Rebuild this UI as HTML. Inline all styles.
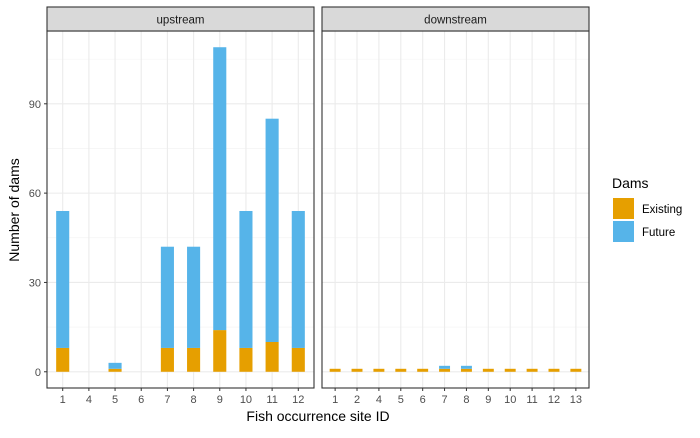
<!DOCTYPE html><html><head><meta charset="utf-8"><style>body{margin:0;background:#fff}text{font-family:"Liberation Sans",sans-serif}</style></head><body>
<svg id="c" width="700" height="433" xmlns="http://www.w3.org/2000/svg"></svg>
<script>
const upCats=["1","4","5","6","7","8","9","10","11","12"];
const upExisting=[8,0,1,0,8,8,14,8,10,8];
const upFuture=[46,0,2,0,34,34,95,46,75,46];
const downCats=["1","2","4","5","6","7","8","9","10","11","12","13"];
const downExisting=[1,1,1,1,1,1,1,1,1,1,1,1];
const downFuture=[0,0,0,0,0,1,1,0,0,0,0,0];
const yTicks=[0,30,60,90];
const svg=document.getElementById('c');const NS="http://www.w3.org/2000/svg";
function el(t,a,p){const e=document.createElementNS(NS,t);for(const k in a)e.setAttribute(k,a[k]);(p||svg).appendChild(e);return e;}
const yTop=31,yBot=388,ymin=-5.45,ymax=114.45;
const y=v=>yBot-(v-ymin)/(ymax-ymin)*(yBot-yTop);
function panel(x0,x1,cats,ex,fu,label,name,showY){
 const g=el('g',{});
 
 
 const n=cats.length,step=(x1-x0)/(n-1+1.2),x=i=>x0+(0.6+i)*step;
 [15,45,75,105].forEach(v=>el('line',{x1:x0,x2:x1,y1:y(v),y2:y(v),stroke:'#f2f2f2','stroke-width':0.6},g));
 yTicks.forEach(v=>el('line',{x1:x0,x2:x1,y1:y(v),y2:y(v),stroke:'#ebebeb','stroke-width':1.1},g));
 cats.forEach((c,i)=>el('line',{x1:x(i),x2:x(i),y1:yTop,y2:yBot,stroke:'#ebebeb','stroke-width':1.1},g));
 const bw=step*0.5;
 cats.forEach((c,i)=>{
  const b1=el('rect',{x:x(i)-bw/2,y:y(ex[i]),width:bw,height:y(0)-y(ex[i]),fill:'#E69F00'},g);
  
  
  const b2=el('rect',{x:x(i)-bw/2,y:y(ex[i]+fu[i]),width:bw,height:y(ex[i])-y(ex[i]+fu[i]),fill:'#56B4E9'},g);
  
  
  el('line',{x1:x(i),x2:x(i),y1:yBot,y2:yBot+3,stroke:'#333'},g);
  const t=el('text',{x:x(i),y:yBot+15,'text-anchor':'middle','font-size':11,fill:'#4d4d4d'},g);t.textContent=c;
 });
 el('rect',{x:x0,y:yTop,width:x1-x0,height:yBot-yTop,fill:'none',stroke:'#333','stroke-width':1.1},g);
 const s=el('rect',{x:x0,y:7,width:x1-x0,height:yTop-7,fill:'#d9d9d9',stroke:'#333','stroke-width':1.1},g);
 
 
 const st=el('text',{x:(x0+x1)/2,y:23.5,'text-anchor':'middle','font-size':11.5,fill:'#1a1a1a'},g);st.textContent=label;
 if(showY)yTicks.forEach(v=>{el('line',{x1:x0-3,x2:x0,y1:y(v),y2:y(v),stroke:'#333'},g);
  const t=el('text',{x:x0-6,y:y(v)+4,'text-anchor':'end','font-size':11,fill:'#4d4d4d'},g);t.textContent=v;});
}
panel(47,314,upCats,upExisting,upFuture,'upstream','upstream',true);
panel(322,589,downCats,downExisting,downFuture,'downstream','downstream',false);
let t=el('text',{x:318,y:421,'text-anchor':'middle','font-size':14,fill:'#000'});t.textContent='Fish occurrence site ID';


t=el('text',{x:19,y:210,'text-anchor':'middle','font-size':14,fill:'#000',transform:'rotate(-90 19 210)'});t.textContent='Number of dams';


const lg=el('g',{});


t=el('text',{x:612,y:188,'font-size':14,fill:'#000'},lg);t.textContent='Dams';
[['Existing','#E69F00',198],['Future','#56B4E9',221]].forEach(([l,c,yy])=>{
 const r=el('rect',{x:613,y:yy,width:21,height:21,fill:c},lg);
 
 
 const tx=el('text',{x:642,y:yy+15,'font-size':11.5,fill:'#000'},lg);tx.textContent=l;});
</script></body></html>
